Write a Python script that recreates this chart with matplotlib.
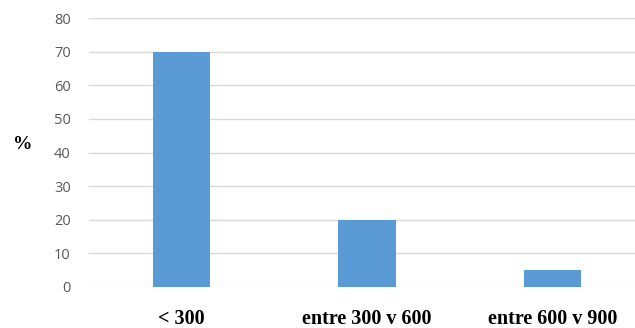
import matplotlib.pyplot as plt

# Datos del gráfico
categorias = ['< 300', 'entre 300 v 600', 'entre 600 v 900']
porcentajes = [70, 20, 5]
ticks_y = [0, 10, 20, 30, 40, 50, 60, 70, 80]

fig = plt.figure(figsize=(6.35, 3.28), dpi=100)
ax = fig.add_axes([0.140, 0.125, 0.876, 0.820])

x = range(len(categorias))
ax.bar(x, porcentajes, width=0.31, color='#5B9BD5', zorder=3)

ax.set_xlim(-0.5, 2.5)
ax.set_ylim(0, 80)
ax.set_yticks(ticks_y)
ax.set_yticklabels([str(t) for t in ticks_y], family='Open Sans', fontsize=10.5, color='#595959')
ax.set_xticks(list(x))
ax.set_xticklabels(categorias, family='Liberation Serif', fontweight='bold', fontsize=14.5, color='black')

ax.tick_params(axis='y', length=0, pad=13)
ax.tick_params(axis='x', length=0, pad=16)
ax.yaxis.grid(True, color='#D9D9D9', linewidth=1)
for s in ax.spines.values():
    s.set_visible(False)

fig.text(0.036, 0.56, '%', family='Liberation Serif', fontweight='bold', fontsize=14, ha='center', va='center')

fig.savefig('out.png', dpi=100)
